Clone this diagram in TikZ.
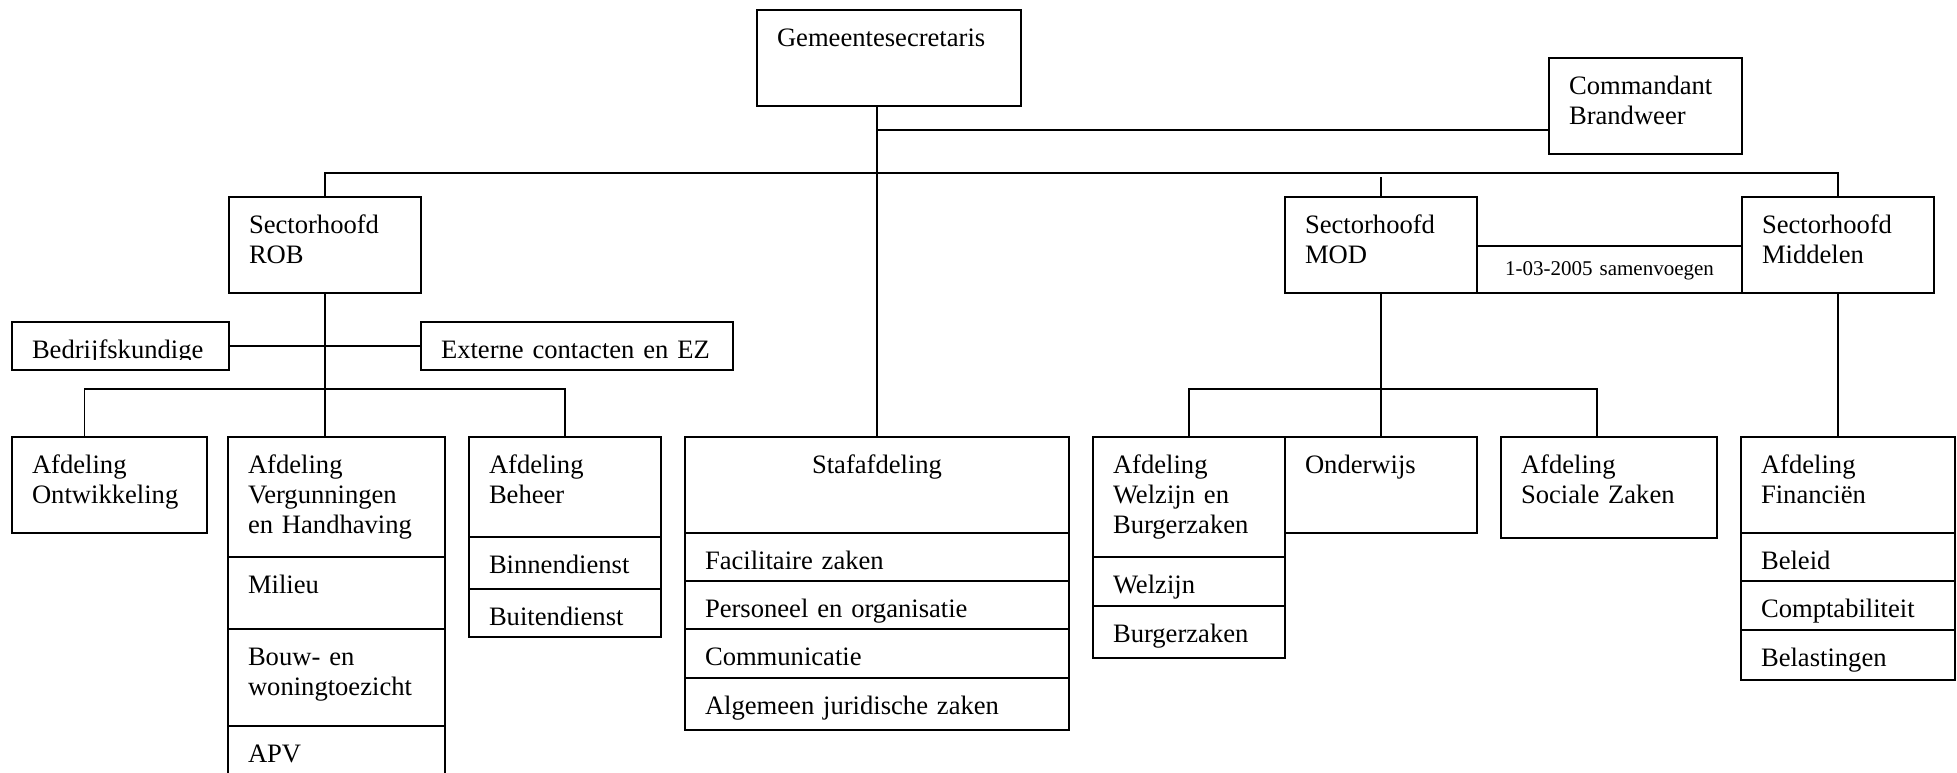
\documentclass[tikz,border=0pt]{standalone}
\usepackage{fontspec}
\setmainfont{Liberation Serif}
\usetikzlibrary{positioning}

\begin{document}
\begin{tikzpicture}[
        x=1pt, y=-1pt,
        font=\fontsize{26.6}{30}\selectfont,
        unit/.style 2 args={rectangle, draw, line width=1.8pt, outer sep=0pt, anchor=north west, inner xsep=20pt, inner ysep=0pt, align=left, text width=#1pt-40pt, text height=36pt, text depth=#2pt-36pt},
        note/.style={font=\fontsize{21}{24}\selectfont, align=center, text height=29pt, text depth=18pt},
        link/.style={line width=1.5pt}
    ]
        \useasboundingbox (0,0) rectangle (1957,772);

        % Top
        \node (gemeente) [unit={264}{96}] at (757,10) {Gemeentesecretaris};
        \node (brandweer) [unit={193}{96}] at (1549,58) {Commandant\\Brandweer};

        % Sectoren
        \node (rob) [unit={192}{96}] at (229,197) {Sectorhoofd\\ROB};
        \node (mod) [unit={192}{96}] at (1285,197) {Sectorhoofd\\MOD};
        \node (samen) [unit={265}{47}, note] at (1477,246) {1-03-2005 samenvoegen};
        \node (middelen) [unit={192}{96}] at (1742,197) {Sectorhoofd\\Middelen};

        % Staf ROB
        \node (bedrijf) [unit={217}{48}] at (12,322) {\phantom{Bedrijfskundige}};
        \begin{scope}
            \clip (bedrijf.north west) rectangle ([yshift=-1pt]bedrijf.base east);
            \node (bedrijftxt) [unit={217}{48}, draw=none] at (bedrijf.north west) {Bedrijfskundige};
        \end{scope}
        \node (externe) [unit={312}{48}] at (421,322) {Externe contacten en EZ};

        % Afdelingen ROB
        \node (ontw) [unit={195}{96}] at (12,437) {Afdeling\\Ontwikkeling};
        \node (verg) [unit={217}{120}] at (228,437) {Afdeling\\Vergunningen\\en Handhaving};
        \node (milieu) [unit={217}{72}, below=0pt of verg] {Milieu};
        \node (bouw) [unit={217}{97}, below=0pt of milieu] {Bouw- en\\woningtoezicht};
        \node (apv) [unit={217}{80}, below=0pt of bouw] {APV};
        \node (beheer) [unit={192}{100}] at (469,437) {Afdeling\\Beheer};
        \node (binnen) [unit={192}{52}, below=0pt of beheer] {Binnendienst};
        \node (buiten) [unit={192}{48}, below=0pt of binnen] {Buitendienst};

        % Stafafdeling
        \node (staf) [unit={384}{96}, align=center] at (685,437) {Stafafdeling};
        \node (facil) [unit={384}{48}, below=0pt of staf] {Facilitaire zaken};
        \node (pers) [unit={384}{48}, below=0pt of facil] {Personeel en organisatie};
        \node (comm) [unit={384}{49}, below=0pt of pers] {Communicatie};
        \node (alg) [unit={384}{52}, below=0pt of comm] {Algemeen juridische zaken};

        % Afdelingen MOD
        \node (welz) [unit={192}{120}] at (1093,437) {Afdeling\\Welzijn en\\Burgerzaken};
        \node (welzijn) [unit={192}{49}, below=0pt of welz] {Welzijn};
        \node (burger) [unit={192}{52}, below=0pt of welzijn] {Burgerzaken};
        \node (onderwijs) [unit={192}{96}] at (1285,437) {Onderwijs};
        \node (sociale) [unit={216}{101}] at (1501,437) {Afdeling\\Sociale Zaken};

        % Afdeling Middelen
        \node (financien) [unit={214}{96}] at (1741,437) {Afdeling\\Financiën};
        \node (beleid) [unit={214}{48}, below=0pt of financien] {Beleid};
        \node (compt) [unit={214}{49}, below=0pt of beleid] {Comptabiliteit};
        \node (belast) [unit={214}{50}, below=0pt of compt] {Belastingen};

        % Lijnen
        \coordinate (bwjoin) at (877,130);
        \coordinate (topbus) at (0,173);
        \coordinate (subbus) at (0,389);
        \draw [link] (staf.north |- gemeente.south) -- (staf.north);
        \draw [link] (bwjoin) -- (bwjoin -| brandweer.west);
        \draw [link] (rob.north) -- (rob.north |- topbus) -- (middelen.north |- topbus) -- (middelen.north);
        \draw [link] (mod.north) -- ++(0,-20);
        \draw [link] (rob.south) -- (rob.south |- verg.north);
        \draw [link] (bedrijf.east) -- (externe.west);
        \draw [link] ([xshift=-25pt]ontw.north) -- ([xshift=-25pt]ontw.north |- subbus) -- (beheer.north |- subbus) -- (beheer.north);
        \draw [link] (mod.south) -- (onderwijs.north);
        \draw [link] (welz.north) -- (welz.north |- subbus) -- ([xshift=-12pt]sociale.north |- subbus) -- ([xshift=-12pt]sociale.north);
        \draw [link] (middelen.south) -- (middelen.south |- financien.north);
    \end{tikzpicture}
\end{document}
